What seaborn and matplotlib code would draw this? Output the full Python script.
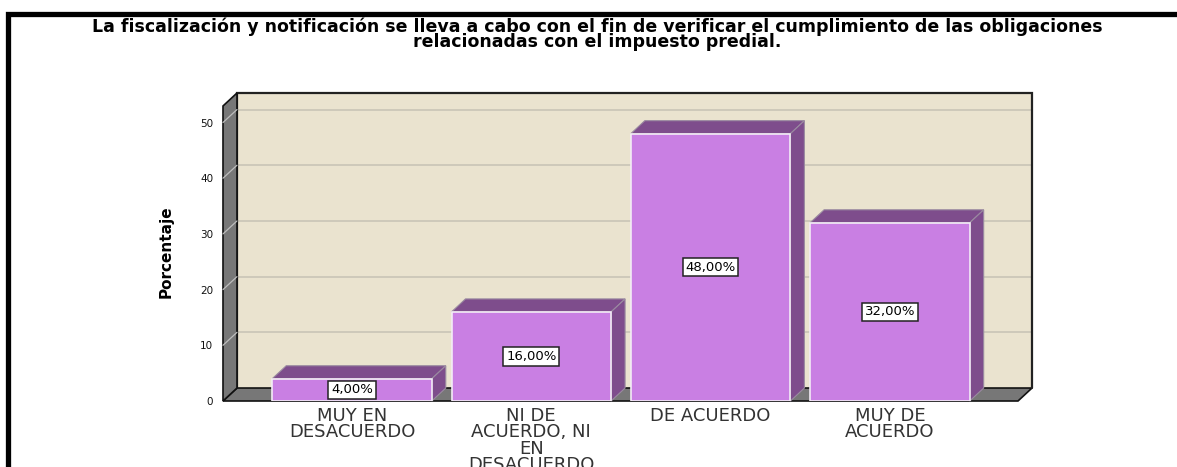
import matplotlib
matplotlib.use("Agg")
import matplotlib.pyplot as plt
import seaborn as sns
from matplotlib.patches import Polygon
from matplotlib.lines import Line2D

# ===================== datos =====================
categorias = ["MUY EN\nDESACUERDO", "NI DE\nACUERDO, NI\nEN\nDESACUERDO",
              "DE ACUERDO", "MUY DE\nACUERDO"]
porcentajes = [4.0, 16.0, 48.0, 32.0]
etiquetas = ["4,00%", "16,00%", "48,00%", "32,00%"]
ticks_y = [0, 10, 20, 30, 40, 50]
titulo = ("La fiscalización y notificación se lleva a cabo con el fin de verificar "
          "el cumplimiento de las obligaciones\nrelacionadas con el impuesto predial.")

# ===================== estilo =====================
sns.set_style("white")
plt.rcParams["font.family"] = ["DejaVu Sans"]

COLOR_FRENTE = "#C97FE3"
COLOR_LADO = "#7E4D8C"
COLOR_PARED = "#EAE3CF"
COLOR_PISO = "#777777"

W, H = 1177, 467
fig = plt.figure(figsize=(W / 100, H / 100), dpi=100)
ax = fig.add_axes([223 / W, (H - 401) / H, (1032 - 223) / W, (401 - 93) / H])

sns.barplot(x=categorias, y=porcentajes, color=COLOR_FRENTE, saturation=1,
            width=0.89, edgecolor="#F3ECF6", linewidth=1.2, ax=ax, zorder=5)

xl, xr = -0.7195, 3.7925
yt = 55.3
dx, dy = 0.078, 2.33
ax.set_xlim(xl, xr)
ax.set_ylim(0, yt)

# pared del fondo, pared izquierda y piso (efecto 3D)
ax.add_patch(Polygon([(xl + dx, dy), (xl + dx, yt), (xr, yt), (xr, dy)],
                     closed=True, fc=COLOR_PARED, ec="none", zorder=0, clip_on=False))
ax.add_patch(Polygon([(xl, 0), (xl, yt - dy), (xl + dx, yt), (xl + dx, dy)],
                     closed=True, fc=COLOR_PISO, ec="#111111", lw=1.2, zorder=3, clip_on=False))
ax.add_patch(Polygon([(xl, 0), (xr - dx, 0), (xr, dy), (xl + dx, dy)],
                     closed=True, fc=COLOR_PISO, ec="#111111", lw=1.2, zorder=2, clip_on=False))
ax.plot([xl + dx, xl + dx, xr, xr], [dy, yt, yt, dy], color="#222222", lw=1.6,
        zorder=2.5, clip_on=False, solid_joinstyle="miter")

for v in ticks_y[1:]:
    ax.plot([xl + dx, xr], [v + dy, v + dy], color="#CCC7B8", lw=1.3, zorder=1, clip_on=False)
    ax.plot([xl, xl + dx], [v, v + dy], color="#BDBDBD", lw=0.9, zorder=3.5, clip_on=False)

# caras superior y lateral de cada barra + etiquetas
barras = list(ax.patches)[:len(porcentajes)]
for p, txt in zip(barras, etiquetas):
    x0, w, h = p.get_x(), p.get_width(), p.get_height()
    x1 = x0 + w
    ax.add_patch(Polygon([(x0, h), (x0 + dx, h + dy), (x1 + dx, h + dy), (x1, h)],
                         closed=True, fc=COLOR_LADO, ec="#9A8AA0", lw=0.8, zorder=4, clip_on=False))
    ax.add_patch(Polygon([(x1, 0), (x1 + dx, dy), (x1 + dx, h + dy), (x1, h)],
                         closed=True, fc=COLOR_LADO, ec="#9A8AA0", lw=0.8, zorder=4, clip_on=False))
    ax.text(x0 + w / 2, h / 2, txt, ha="center", va="center", fontsize=9.5, color="black",
            zorder=7, bbox=dict(boxstyle="square,pad=0.2", fc="white", ec="#222222", lw=1.1))

# ejes
for s in ax.spines.values():
    s.set_visible(False)
ax.set_facecolor("none")
ax.grid(False)
ax.set_xlabel("")
ax.set_ylabel("")
ax.set_yticks(ticks_y)
ax.tick_params(axis="y", length=0, pad=7, labelsize=7.5, labelcolor="#111111")
ax.tick_params(axis="x", length=0, pad=4, labelsize=13, labelcolor="#333333")
for t in ax.get_xticklabels():
    t.set_linespacing(0.9)

fig.text(166 / W, (H - 252) / H, "Porcentaje", rotation=90, ha="center", va="center",
         fontsize=11, fontweight="bold", color="black")

fig.text(597 / W, (H - 17) / H, titulo, ha="center", va="top", fontsize=12.5,
         fontweight="bold", linespacing=0.85, color="black")

# marco negro
fig.add_artist(Line2D([7.5 / W, 7.5 / W, 1.0], [0, 1 - 13.5 / H, 1 - 13.5 / H],
                      transform=fig.transFigure, color="black", lw=3.8,
                      solid_joinstyle="miter"))

fig.savefig("out.png", dpi=100)
